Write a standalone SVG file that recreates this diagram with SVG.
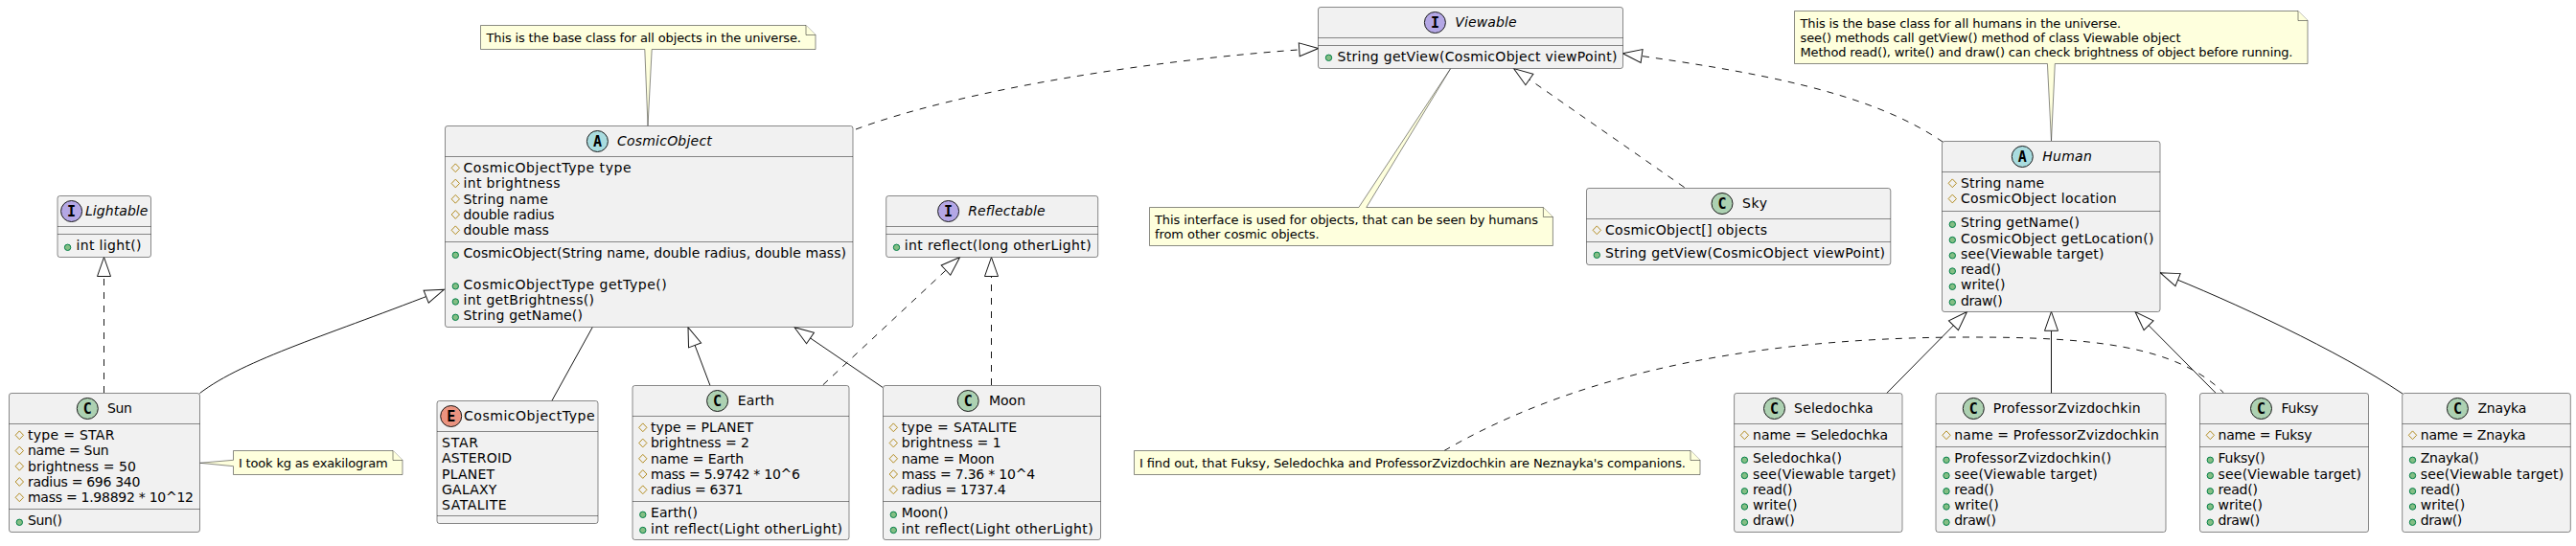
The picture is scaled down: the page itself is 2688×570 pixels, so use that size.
<svg xmlns="http://www.w3.org/2000/svg" width="2688" height="570" viewBox="0 0 2688 570">
<style>
text{font-family:"DejaVu Sans",sans-serif;font-size:14px;fill:#000}
.b{fill:#F1F1F1;stroke:#181818;stroke-width:.5}
.s{stroke:#181818;stroke-width:.5;fill:none}
.i{font-style:italic}
.n{fill:#FEFFDD;stroke:#181818;stroke-width:.5}
.t{font-size:13px}
.pr{fill:none;stroke:#B38D22;stroke-width:1}
.pu{fill:#84BE84;stroke:#038048;stroke-width:1}
.c{stroke:#181818;stroke-width:1}
.cC{fill:#ADD1B2}.cA{fill:#A9DCDF}.cI{fill:#B4A7E5}.cE{fill:#EB937F}
.l{font-family:"DejaVu Sans Mono",monospace;font-weight:bold;font-size:15px;text-anchor:middle}
.e{fill:none;stroke:#181818;stroke-width:1}
.d{stroke-dasharray:7,7}
.h{marker-end:url(#tri)}
</style>
<defs>
<marker id="tri" markerUnits="userSpaceOnUse" markerWidth="24" markerHeight="18" refX="21" refY="9" orient="auto">
<path d="M21,9 L1,2 L1,16 Z" fill="#FFFFFF" stroke="#181818" stroke-width="1"/>
</marker>
<path id="p" class="pr" d="M0,-4.4 L4.2,0 L0,4.4 L-4.2,0 Z"/>
<circle id="u" class="pu" r="3.2"/>
</defs>
<g id="connectors">
<path class="e d h" d="M108.5,410 L108.5,268.5"/>
<path class="e h" d="M208.5,410.5 C255,375 345,349 463.3,302.3"/>
<path class="e" d="M575.8,418.5 L618.3,341.5"/>
<path class="e h" d="M741,402.5 L718,341.7"/>
<path class="e h" d="M921,404.4 L829,341.7"/>
<path class="e d h" d="M858.8,401.8 L1001.6,268.5"/>
<path class="e d h" d="M1034.5,402 L1034.5,268.5"/>
<path class="e d h" d="M893,135 C1000,95 1200,62 1375.7,50.5"/>
<path class="e d h" d="M1757.6,195.6 L1579.5,71.5"/>
<path class="e d h" d="M2027.6,148.4 C1950,95 1830,75 1693.3,55.7"/>
<path class="e h" d="M1968.7,410.5 L2052.5,325.5"/>
<path class="e h" d="M2140.5,410.5 L2140.5,325.3"/>
<path class="e h" d="M2311.8,410 L2228,325.5"/>
<path class="e h" d="M2507,411 C2440,366 2330,315 2254,284.7"/>
<path class="e d" d="M1507,470.5 C1620,405 1790,352 2055,352 C2180,352 2270,360 2320.3,410"/>
</g>
<g id="note-cosmic">
<path class="n" d="M501.5,26.5 L841,26.5 L851,36.5 L851,51.5 L680.2,51.5 L676,131.5 L672.8,51.5 L501.5,51.5 Z"/>
<path class="n" d="M841,26.5 L841,36.5 L851,36.5"/>
<text class="t" x="507.5" y="44" textLength="328.5">This is the base class for all objects in the universe.</text>
</g>
<g id="note-sun">
<path class="n" d="M243.5,470.5 L410,470.5 L420,480.5 L420,495.5 L243.5,495.5 L243.5,486.7 L208.5,483.3 L243.5,480.3 Z"/>
<path class="n" d="M410,470.5 L410,480.5 L420,480.5"/>
<text class="t" x="249" y="488" textLength="155.7">I took kg as exakilogram</text>
</g>
<g id="note-viewable">
<path class="n" d="M1199.5,216.5 L1417.8,216.5 L1513.7,71.5 L1425.8,216.5 L1610.4,216.5 L1620.4,226.5 L1620.4,256.5 L1199.5,256.5 Z"/>
<path class="n" d="M1610.4,216.5 L1610.4,226.5 L1620.4,226.5"/>
<text class="t" x="1205" y="234" textLength="400">This interface is used for objects, that can be seen by humans</text>
<text class="t" x="1205" y="249" textLength="171.7">from other cosmic objects.</text>
</g>
<g id="note-human">
<path class="n" d="M1872.5,11.5 L2398,11.5 L2408,21.5 L2408,66.5 L2144.3,66.5 L2140.5,147 L2136.4,66.5 L1872.5,66.5 Z"/>
<path class="n" d="M2398,11.5 L2398,21.5 L2408,21.5"/>
<text class="t" x="1878.5" y="28.8" textLength="334.7">This is the base class for all humans in the universe.</text>
<text class="t" x="1878.5" y="43.8" textLength="397">see() methods call getView() method of class Viewable object</text>
<text class="t" x="1878.5" y="58.8" textLength="514">Method read(), write() and draw() can check brightness of object before running.</text>
</g>
<g id="note-companions">
<path class="n" d="M1183.5,470.5 L1764,470.5 L1774,480.5 L1774,495.5 L1183.5,495.5 Z"/>
<path class="n" d="M1764,470.5 L1764,480.5 L1774,480.5"/>
<text class="t" x="1189" y="488" textLength="570">I find out, that Fuksy, Seledochka and ProfessorZvizdochkin are Neznayka's companions.</text>
</g>
<g id="Lightable">
<rect class="b" x="60" y="204.5" width="97.5" height="64" rx="2.5"/>
<path class="s" d="M60,236.5 H157.5 M60,244.5 H157.5"/>
<circle class="c cI" cx="74.6" cy="220.5" r="11"/><text class="l" x="74.6" y="225.5">I</text>
<text class="i" x="89" y="224.8" textLength="65.4">Lightable</text>
<use href="#u" x="70.6" y="258.3"/><text x="79.5" y="261.3" textLength="68">int light()</text>
</g>
<g id="Sun">
<rect class="b" x="9.5" y="410.5" width="199" height="145" rx="2.5"/>
<path class="s" d="M9.5,442.5 H208.5 M9.5,531.5 H208.5"/>
<circle class="c cC" cx="91.3" cy="426.5" r="11"/><text class="l" x="91.3" y="431.5">C</text>
<text x="112" y="430.8" textLength="25.8">Sun</text>
<use href="#p" x="20.3" y="454.3"/><text x="29" y="459" textLength="90.4">type = STAR</text>
<use href="#p" x="20.3" y="470.5"/><text x="29" y="475.2" textLength="84.7">name = Sun</text>
<use href="#p" x="20.3" y="486.8"/><text x="29" y="491.5" textLength="112.8">brightness = 50</text>
<use href="#p" x="20.3" y="503"/><text x="29" y="507.7" textLength="117.4">radius = 696 340</text>
<use href="#p" x="20.3" y="519.3"/><text x="29" y="524" textLength="173">mass = 1.98892 * 10^12</text>
<use href="#u" x="20.3" y="545.3"/><text x="29" y="548.3" textLength="36">Sun()</text>
</g>
<g id="CosmicObject">
<rect class="b" x="464.5" y="131.5" width="425.5" height="210" rx="2.5"/>
<path class="s" d="M464.5,163.5 H890 M464.5,252.5 H890"/>
<circle class="c cA" cx="623.4" cy="147.5" r="11"/><text class="l" x="623.4" y="152.5">A</text>
<text class="i" x="644" y="151.8" textLength="98.8">CosmicObject</text>
<use href="#p" x="475.3" y="175.3"/><text x="483.5" y="180" textLength="175">CosmicObjectType type</text>
<use href="#p" x="475.3" y="191.5"/><text x="483.5" y="196.2" textLength="101">int brightness</text>
<use href="#p" x="475.3" y="207.8"/><text x="483.5" y="212.5" textLength="88.3">String name</text>
<use href="#p" x="475.3" y="224"/><text x="483.5" y="228.7" textLength="95">double radius</text>
<use href="#p" x="475.3" y="240.3"/><text x="483.5" y="245" textLength="89.4">double mass</text>
<use href="#u" x="475.3" y="266.3"/><text x="483.5" y="269.3" textLength="399.5">CosmicObject(String name, double radius, double mass)</text>
<use href="#u" x="475.3" y="298.8"/><text x="483.5" y="301.8" textLength="212.3">CosmicObjectType getType()</text>
<use href="#u" x="475.3" y="315"/><text x="483.5" y="318" textLength="136.5">int getBrightness()</text>
<use href="#u" x="475.3" y="331.3"/><text x="483.5" y="334.3" textLength="124.5">String getName()</text>
</g>
<g id="CosmicObjectType">
<rect class="b" x="456" y="418.5" width="168" height="128" rx="2.5"/>
<path class="s" d="M456,450.5 H624 M456,538.5 H624"/>
<circle class="c cE" cx="470.7" cy="434.5" r="11"/><text class="l" x="470.7" y="439.5">E</text>
<text x="484" y="438.8" textLength="136.6">CosmicObjectType</text>
<text x="461" y="467" textLength="38">STAR</text>
<text x="461" y="483.2" textLength="73">ASTEROID</text>
<text x="461" y="499.5" textLength="55">PLANET</text>
<text x="461" y="515.7" textLength="57.4">GALAXY</text>
<text x="461" y="532" textLength="67.7">SATALITE</text>
</g>
<g id="Earth">
<rect class="b" x="660" y="402.5" width="226" height="161" rx="2.5"/>
<path class="s" d="M660,434.5 H886 M660,523.5 H886"/>
<circle class="c cC" cx="748.6" cy="418.5" r="11"/><text class="l" x="748.6" y="423.5">C</text>
<text x="769.8" y="422.8" textLength="38">Earth</text>
<use href="#p" x="670.8" y="446.3"/><text x="679" y="451" textLength="107">type = PLANET</text>
<use href="#p" x="670.8" y="462.5"/><text x="679" y="467.2" textLength="103">brightness = 2</text>
<use href="#p" x="670.8" y="478.8"/><text x="679" y="483.5" textLength="97">name = Earth</text>
<use href="#p" x="670.8" y="495"/><text x="679" y="499.7" textLength="156">mass = 5.9742 * 10^6</text>
<use href="#p" x="670.8" y="511.3"/><text x="679" y="516" textLength="96.5">radius = 6371</text>
<use href="#u" x="670.8" y="537.3"/><text x="679" y="540.3" textLength="49">Earth()</text>
<use href="#u" x="670.8" y="553.5"/><text x="679" y="556.5" textLength="200">int reflect(Light otherLight)</text>
</g>
<g id="Moon">
<rect class="b" x="921.5" y="402.5" width="227" height="161" rx="2.5"/>
<path class="s" d="M921.5,434.5 H1148.5 M921.5,523.5 H1148.5"/>
<circle class="c cC" cx="1010.2" cy="418.5" r="11"/><text class="l" x="1010.2" y="423.5">C</text>
<text x="1032" y="422.8" textLength="38">Moon</text>
<use href="#p" x="932.3" y="446.3"/><text x="940.7" y="451" textLength="120.5">type = SATALITE</text>
<use href="#p" x="932.3" y="462.5"/><text x="940.7" y="467.2" textLength="104">brightness = 1</text>
<use href="#p" x="932.3" y="478.8"/><text x="940.7" y="483.5" textLength="97">name = Moon</text>
<use href="#p" x="932.3" y="495"/><text x="940.7" y="499.7" textLength="139.5">mass = 7.36 * 10^4</text>
<use href="#p" x="932.3" y="511.3"/><text x="940.7" y="516" textLength="109">radius = 1737.4</text>
<use href="#u" x="932.3" y="537.3"/><text x="940.7" y="540.3" textLength="48.8">Moon()</text>
<use href="#u" x="932.3" y="553.5"/><text x="940.7" y="556.5" textLength="200">int reflect(Light otherLight)</text>
</g>
<g id="Reflectable">
<rect class="b" x="924.7" y="204.5" width="221" height="64" rx="2.5"/>
<path class="s" d="M924.7,236.5 H1145.7 M924.7,244.5 H1145.7"/>
<circle class="c cI" cx="989.6" cy="220.5" r="11"/><text class="l" x="989.6" y="225.5">I</text>
<text class="i" x="1010.2" y="224.8" textLength="80.4">Reflectable</text>
<use href="#u" x="935.5" y="258.3"/><text x="943.7" y="261.3" textLength="195">int reflect(long otherLight)</text>
</g>
<g id="Viewable">
<rect class="b" x="1375.5" y="7.5" width="318" height="64" rx="2.5"/>
<path class="s" d="M1375.5,39.5 H1693.5 M1375.5,47.5 H1693.5"/>
<circle class="c cI" cx="1497.4" cy="23.5" r="11"/><text class="l" x="1497.4" y="28.5">I</text>
<text class="i" x="1518.3" y="27.8" textLength="64.3">Viewable</text>
<use href="#u" x="1386.5" y="60.3"/><text x="1395.5" y="64.3" textLength="292">String getView(CosmicObject viewPoint)</text>
</g>
<g id="Sky">
<rect class="b" x="1655.5" y="196.5" width="317.3" height="80" rx="2.5"/>
<path class="s" d="M1655.5,228.5 H1972.8 M1655.5,252.5 H1972.8"/>
<circle class="c cC" cx="1797" cy="212.5" r="11"/><text class="l" x="1797" y="217.5">C</text>
<text x="1818" y="216.8" textLength="26">Sky</text>
<use href="#p" x="1666.3" y="240.3"/><text x="1675" y="245" textLength="169">CosmicObject[] objects</text>
<use href="#u" x="1666.3" y="266.3"/><text x="1675" y="269.3" textLength="292">String getView(CosmicObject viewPoint)</text>
</g>
<g id="Human">
<rect class="b" x="2026.5" y="147.5" width="227.5" height="178" rx="2.5"/>
<path class="s" d="M2026.5,179.5 H2254 M2026.5,220.5 H2254"/>
<circle class="c cA" cx="2110.3" cy="163.5" r="11"/><text class="l" x="2110.3" y="168.5">A</text>
<text class="i" x="2131.3" y="167.8" textLength="51.5">Human</text>
<use href="#p" x="2037.3" y="191.3"/><text x="2046" y="196" textLength="87.2">String name</text>
<use href="#p" x="2037.3" y="207.5"/><text x="2046" y="212.2" textLength="162.5">CosmicObject location</text>
<use href="#u" x="2037.3" y="234.3"/><text x="2046" y="237.3" textLength="123.9">String getName()</text>
<use href="#u" x="2037.3" y="250.5"/><text x="2046" y="253.5" textLength="201.5">CosmicObject getLocation()</text>
<use href="#u" x="2037.3" y="266.8"/><text x="2046" y="269.8" textLength="149.5">see(Viewable target)</text>
<use href="#u" x="2037.3" y="283"/><text x="2046" y="286" textLength="42">read()</text>
<use href="#u" x="2037.3" y="299.3"/><text x="2046" y="302.3" textLength="46.4">write()</text>
<use href="#u" x="2037.3" y="315.5"/><text x="2046" y="318.5" textLength="43.6">draw()</text>
</g>
<g id="Seledochka">
<rect class="b" x="1809.6" y="410.5" width="175.4" height="145" rx="2.5"/>
<path class="s" d="M1809.6,442.5 H1985 M1809.6,466.5 H1985"/>
<circle class="c cC" cx="1851.5" cy="426.5" r="11"/><text class="l" x="1851.5" y="431.5">C</text>
<text x="1872" y="430.8" textLength="82.7">Seledochka</text>
<use href="#p" x="1820.4" y="454.3"/><text x="1829" y="459" textLength="141">name = Seledochka</text>
<use href="#u" x="1820.4" y="480.3"/><text x="1829" y="483.3" textLength="93">Seledochka()</text>
<use href="#u" x="1820.4" y="496.5"/><text x="1829" y="499.5" textLength="149.5">see(Viewable target)</text>
<use href="#u" x="1820.4" y="512.8"/><text x="1829" y="515.8" textLength="41.5">read()</text>
<use href="#u" x="1820.4" y="529"/><text x="1829" y="532" textLength="46.4">write()</text>
<use href="#u" x="1820.4" y="545.3"/><text x="1829" y="548.3" textLength="43.6">draw()</text>
</g>
<g id="ProfessorZvizdochkin">
<rect class="b" x="2020" y="410.5" width="240" height="145" rx="2.5"/>
<path class="s" d="M2020,442.5 H2260 M2020,466.5 H2260"/>
<circle class="c cC" cx="2059.3" cy="426.5" r="11"/><text class="l" x="2059.3" y="431.5">C</text>
<text x="2079.7" y="430.8" textLength="154">ProfessorZvizdochkin</text>
<use href="#p" x="2031" y="454.3"/><text x="2039.3" y="459" textLength="213.5">name = ProfessorZvizdochkin</text>
<use href="#u" x="2031" y="480.3"/><text x="2039.3" y="483.3" textLength="164">ProfessorZvizdochkin()</text>
<use href="#u" x="2031" y="496.5"/><text x="2039.3" y="499.5" textLength="149.5">see(Viewable target)</text>
<use href="#u" x="2031" y="512.8"/><text x="2039.3" y="515.8" textLength="41.5">read()</text>
<use href="#u" x="2031" y="529"/><text x="2039.3" y="532" textLength="46.4">write()</text>
<use href="#u" x="2031" y="545.3"/><text x="2039.3" y="548.3" textLength="43.6">draw()</text>
</g>
<g id="Fuksy">
<rect class="b" x="2295.5" y="410.5" width="176" height="145" rx="2.5"/>
<path class="s" d="M2295.5,442.5 H2471.5 M2295.5,466.5 H2471.5"/>
<circle class="c cC" cx="2359.5" cy="426.5" r="11"/><text class="l" x="2359.5" y="431.5">C</text>
<text x="2380.4" y="430.8" textLength="39">Fuksy</text>
<use href="#p" x="2306.3" y="454.3"/><text x="2314.5" y="459" textLength="98">name = Fuksy</text>
<use href="#u" x="2306.3" y="480.3"/><text x="2314.5" y="483.3" textLength="49.3">Fuksy()</text>
<use href="#u" x="2306.3" y="496.5"/><text x="2314.5" y="499.5" textLength="149.5">see(Viewable target)</text>
<use href="#u" x="2306.3" y="512.8"/><text x="2314.5" y="515.8" textLength="41.5">read()</text>
<use href="#u" x="2306.3" y="529"/><text x="2314.5" y="532" textLength="46.4">write()</text>
<use href="#u" x="2306.3" y="545.3"/><text x="2314.5" y="548.3" textLength="43.6">draw()</text>
</g>
<g id="Znayka">
<rect class="b" x="2506.7" y="410.5" width="175.6" height="145" rx="2.5"/>
<path class="s" d="M2506.7,442.5 H2682.3 M2506.7,466.5 H2682.3"/>
<circle class="c cC" cx="2564.4" cy="426.5" r="11"/><text class="l" x="2564.4" y="431.5">C</text>
<text x="2585.4" y="430.8" textLength="51">Znayka</text>
<use href="#p" x="2517.5" y="454.3"/><text x="2525.7" y="459" textLength="110">name = Znayka</text>
<use href="#u" x="2517.5" y="480.3"/><text x="2525.7" y="483.3" textLength="61">Znayka()</text>
<use href="#u" x="2517.5" y="496.5"/><text x="2525.7" y="499.5" textLength="149.5">see(Viewable target)</text>
<use href="#u" x="2517.5" y="512.8"/><text x="2525.7" y="515.8" textLength="41.5">read()</text>
<use href="#u" x="2517.5" y="529"/><text x="2525.7" y="532" textLength="46.4">write()</text>
<use href="#u" x="2517.5" y="545.3"/><text x="2525.7" y="548.3" textLength="43.6">draw()</text>
</g>
</svg>
